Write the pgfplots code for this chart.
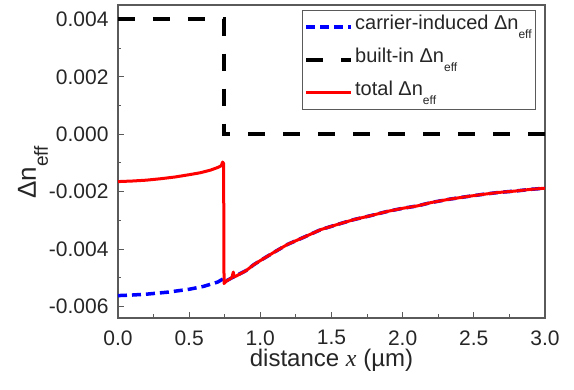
\documentclass[border=0pt]{standalone}
\usepackage{fontspec}
\setmainfont{Liberation Sans}
\newfontfamily\seriffont{Liberation Serif}
\usepackage{pgfplots}
\pgfplotsset{compat=1.18}
\definecolor{axgray}{RGB}{90,90,90}
\begin{document}
\begin{tikzpicture}
\useasboundingbox (-118pt,-72pt) rectangle (456pt,318pt);
\begin{axis}[
  scale only axis, width=427pt, height=313pt,
  xmin=0, xmax=3, ymin=-0.0064, ymax=0.0045,
  axis line style={axgray, line width=1.2pt},
  tick style={axgray, line width=1.1pt},
  tick pos=left, tick align=inside,
  major tick length=6pt, minor tick length=3.5pt,
  xtick={0,0.5,1,1.5,2,2.5,3},
  xticklabels={0.0,0.5,1.0,1.5,2.0,2.5,3.0},
  minor x tick num=1,
  ytick={-0.006,-0.004,-0.002,0,0.002,0.004},
  yticklabels={-0.006,-0.004,-0.002,0.000,0.002,0.004},
  minor y tick num=1,
  scaled y ticks=false, scaled x ticks=false,
  ticklabel style={font=\fontsize{21}{24}\selectfont, text=black!85},
  xticklabel style={yshift=-9pt},
  yticklabel style={xshift=-6pt},
  xlabel={distance {\seriffont\itshape x} (µm)},
  xlabel style={at={(axis description cs:0.5,-0.135)}, anchor=center, font=\fontsize{24}{28}\selectfont, text=black!85},
  ylabel={Δn\raisebox{-12pt}{\fontsize{19}{19}\selectfont eff}},
  ylabel style={at={(axis description cs:-0.199,0.465)}, anchor=center, font=\fontsize{26}{30}\selectfont, text=black!85},
  legend image code/.code={\draw[#1] (0pt,0pt) -- (45pt,0pt);},
  legend cell align=left,
  legend style={at={(axis description cs:1,1)}, anchor=north east, xshift=-9pt, yshift=-5pt,
    draw=axgray, line width=0.6pt, font=\fontsize{20}{24}\selectfont, text=black!85,
    inner xsep=2pt, inner ysep=0pt, row sep=0pt,
    nodes={text height=15pt, text depth=9pt, inner ysep=4.5pt}},
]
\addplot[blue, line width=3.5pt, dash pattern=on 9pt off 5pt] coordinates {
(0,-0.00562) (0.1,-0.0056) (0.2,-0.00557) (0.35,-0.0055) (0.5,-0.0054) (0.6,-0.0053)
(0.7,-0.00515) (0.745,-0.00502) (0.76,-0.00511) (0.8,-0.00500) (0.9,-0.00475)
(0.955,-0.00454) (1.0,-0.0044) (1.1,-0.0041) (1.19,-0.00384) (1.3,-0.0036)
(1.426,-0.00332) (1.55,-0.00313) (1.66,-0.00297) (1.78,-0.00283) (1.9,-0.00268)
(2.0,-0.00258) (2.1,-0.0025) (2.2,-0.00238) (2.32,-0.00227) (2.44,-0.00218)
(2.555,-0.0021) (2.67,-0.00203) (2.79,-0.00198) (2.9,-0.00192) (3.0,-0.00188)
};
\addlegendentry{carrier-induced Δn\raisebox{-9pt}{\fontsize{12}{12}\selectfont eff}}
\addplot[black, line width=4pt, dash pattern=on 17pt off 18pt] coordinates {
(0,0.004) (0.743,0.004) (0.743,0) (3,0)
};
\addlegendentry{built-in Δn\raisebox{-9pt}{\fontsize{12}{12}\selectfont eff}}
\addplot[red, line width=3pt, line join=round] coordinates {
(0,-0.00165) (0.1,-0.00163) (0.2,-0.0016) (0.3,-0.00155) (0.4,-0.00149) (0.5,-0.00141)
(0.58,-0.00134) (0.65,-0.00125) (0.70,-0.00116) (0.725,-0.0011) (0.735,-0.00097)
(0.742,-0.00102) (0.745,-0.0052) (0.76,-0.00512) (0.8,-0.00500) (0.81,-0.0048)
(0.815,-0.00497) (0.83,-0.00494) (0.9,-0.00475) (0.955,-0.00454) (1.0,-0.0044)
(1.1,-0.0041) (1.19,-0.00384) (1.3,-0.0036) (1.426,-0.00332) (1.55,-0.00313)
(1.66,-0.00297) (1.78,-0.00283) (1.9,-0.00268) (2.0,-0.00258) (2.1,-0.0025)
(2.2,-0.00238) (2.32,-0.00227) (2.44,-0.00218) (2.555,-0.0021) (2.67,-0.00203)
(2.79,-0.00198) (2.9,-0.00192) (3.0,-0.00188)
};
\addlegendentry{total Δn\raisebox{-9pt}{\fontsize{12}{12}\selectfont eff}}
\end{axis}
\end{tikzpicture}
\end{document}
